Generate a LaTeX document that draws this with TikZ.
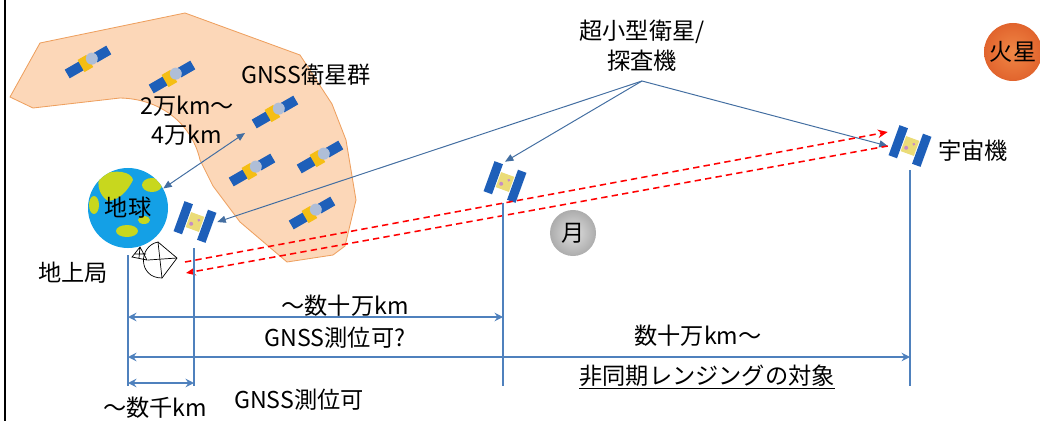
\documentclass[tikz,border=0pt]{standalone}
\usepackage{fontspec}
\setmainfont{Noto Sans CJK JP}
\usetikzlibrary{arrows.meta}

\definecolor{dimblue}{RGB}{79,129,189}
\definecolor{cloudfill}{RGB}{252,215,184}
\definecolor{cloudedge}{RGB}{238,160,95}
\definecolor{earthblue}{RGB}{20,160,230}
\definecolor{land}{RGB}{200,215,30}
\definecolor{satblue}{RGB}{30,95,185}
\definecolor{satyellow}{RGB}{245,190,20}
\definecolor{dishgray}{RGB}{175,190,215}
\definecolor{bodyyellow}{RGB}{235,220,120}

\tikzset{
	lbl/.style={font=\fontsize{16.5}{21}\selectfont, inner sep=0pt, align=center},
	dimline/.style={dimblue, line width=1.5pt},
	dimarrow/.style={dimline, {Stealth[length=6pt,width=6pt,inset=2pt]}-{Stealth[length=6pt,width=6pt,inset=2pt]}},
	pointer/.style={dimblue!85!black, line width=0.7pt, -{Triangle[length=6pt,width=5pt]}},
	radio/.style={red, line width=1.1pt, dash pattern=on 4.5pt off 3pt},
	craftbox/.style={minimum width=1.1cm, minimum height=1cm, inner sep=0pt}
}

% GNSS satellite: two panels, body and dish
\newcommand{\gnssicon}[1]{%
	\begin{scope}[shift={#1}, rotate=30]
		\fill[satblue] (-24,-5) rectangle (-7,5);
		\fill[satblue] (8,-5) rectangle (24,5);
		\fill[satyellow] (-8,-7) rectangle (2,7);
		\fill[dishgray] (5,-1) circle (6);
	\end{scope}}

% small probe with upright panels
\newcommand{\probeicon}[1]{%
	\begin{scope}[shift={#1}, rotate=-20]
		\fill[satblue] (-17,-16) rectangle (-8,16);
		\fill[satblue] (8,-16) rectangle (17,16);
		\fill[bodyyellow] (-7,-8) rectangle (7,8);
		\fill[violet!45] (-3,3) circle (2) (3,-3) circle (1.5);
	\end{scope}}

\begin{document}
\begin{tikzpicture}[x=0.025cm, y=-0.025cm]
	\useasboundingbox (0,0) rectangle (1040,421);
	\draw[line width=1.5pt] (5,0) -- (5,421);

	% GNSS constellation region
	\filldraw[fill=cloudfill, draw=cloudedge, line width=0.6pt] (10,97) -- (40,43) -- (185,13) -- (300,55) -- (332,104) -- (346,140) -- (356,200) -- (345,246) -- (333,255) -- (287,262) -- (240,222) -- (213,186) -- (200,160) .. controls (193,128) and (165,99) .. (120,98) -- (33,108) -- cycle;
	\foreach \x/\y in {88/62,172/77,275/112,252/170,320/157,312/213}
		{\gnssicon{(\x,\y)}}
	\node[lbl] (gnsslbl) at (306,75) {GNSS衛星群};
	\node[lbl, font=\fontsize{16.5}{20.5}\selectfont] (gnssdist) at (187,121) {2万km～\\4万km};
	\coordinate (gnssnear) at (245,133);

	% earth
	\node[circle, fill=earthblue, minimum size=2cm, inner sep=0pt] (earth) at (128,208) {};
	\begin{scope}
		\clip (128,208) circle (40);
		\fill[land] (100,176) .. controls (115,168) and (132,172) .. (133,180) .. controls (128,190) and (120,200) .. (108,201) .. controls (100,196) and (96,185) .. cycle;
		\fill[land] (152,185) ellipse (10 and 7);
		\fill[land] (94,205) ellipse (5 and 9);
		\fill[land] (127,231) ellipse (11 and 6);
		\fill[land] (144,220) ellipse (6 and 4);
	\end{scope}
	\node[lbl] at (earth) {地球};

	% moon and mars
	\node[circle, inner color=gray!25, outer color=gray!65, minimum size=1.15cm, inner sep=0pt] (moon) at (573,233) {};
	\node[lbl] at (moon) {月};
	\node[circle, inner color={rgb,255:red,240;green,135;blue,70}, outer color={rgb,255:red,225;green,100;blue,45}, minimum size=1.45cm, inner sep=0pt] (mars) at (1013,52) {};
	\node[lbl] at (mars) {火星};

	% ground station antenna
	\filldraw[fill=white, line width=0.5pt] (158,242) .. controls (138,246) and (138,278) .. (162,278) -- cycle;
	\draw[line width=0.5pt] (158,242) -- (177,258) -- (162,278) (148,260) -- (177,258);
	\draw[line width=0.5pt] (132,257) -- (140,247) -- (147,260) -- cycle (140,247) -- (139,258) (134,254) -- (146,254);
	\node[lbl] (gs) at (73,273) {地上局};

	% probes
	\node[craftbox] (craftL) at (195,222) {};
	\node[craftbox] (craftM) at (505,182) {};
	\node[craftbox] (craftR) at (910,146) {};
	\probeicon{(195,222)}
	\probeicon{(505,182)}
	\probeicon{(910,146)}
	\node[lbl, anchor=west] (craftlbl) at (938,151) {宇宙機};

	\node[lbl, font=\fontsize{16.5}{21.5}\selectfont] (probelbl) at (642,46) {超小型衛星/\\探査機};
	\coordinate (fork) at (642,81);
	\draw[pointer] (fork) -- (craftL.east);
	\draw[pointer] (fork) -- (craftM.north);
	\draw[pointer] (fork) -- (craftR.west);
	\draw[pointer, {Triangle[length=6pt,width=5pt]}-{Triangle[length=6pt,width=5pt]}] (earth.29) -- (gnssnear);

	% ranging links
	\coordinate (uplink) at (185,262);
	\coordinate (downlink) at (186,273);
	\draw[radio, -{Stealth[length=7pt,width=6pt]}] (uplink) -- ([yshift=0.35cm]craftR.west);
	\draw[radio, -{Stealth[length=7pt,width=6pt]}] (craftR.west) -- (downlink);

	% distance scale
	\coordinate (base) at (0,386);
	\coordinate (r1) at (0,317);
	\coordinate (r2) at (0,357);
	\coordinate (r3) at (0,383);
	\coordinate (gsx) at (128,255);
	\coordinate (leox) at (194,248);
	\coordinate (moonx) at (503,203);
	\coordinate (farx) at (910,170);
	\foreach \c in {gsx,leox,moonx,farx}
		\draw[dimline] (\c) -- (\c |- base);
	\draw[dimarrow] (gsx |- r1) -- (moonx |- r1);
	\draw[dimarrow] (gsx |- r2) -- (farx |- r2);
	\draw[dimarrow] (gsx |- r3) -- (leox |- r3);

	\node[lbl] at (345,306) {～数十万km};
	\node[lbl] at (335,338) {GNSS測位可?};
	\node[lbl] at (698,336) {数十万km～};
	\node[lbl] at (707,377) {\underline{非同期レンジングの対象}};
	\node[lbl] at (299,400) {GNSS測位可};
	\node[lbl] at (155,408) {～数千km};
\end{tikzpicture}
\end{document}
